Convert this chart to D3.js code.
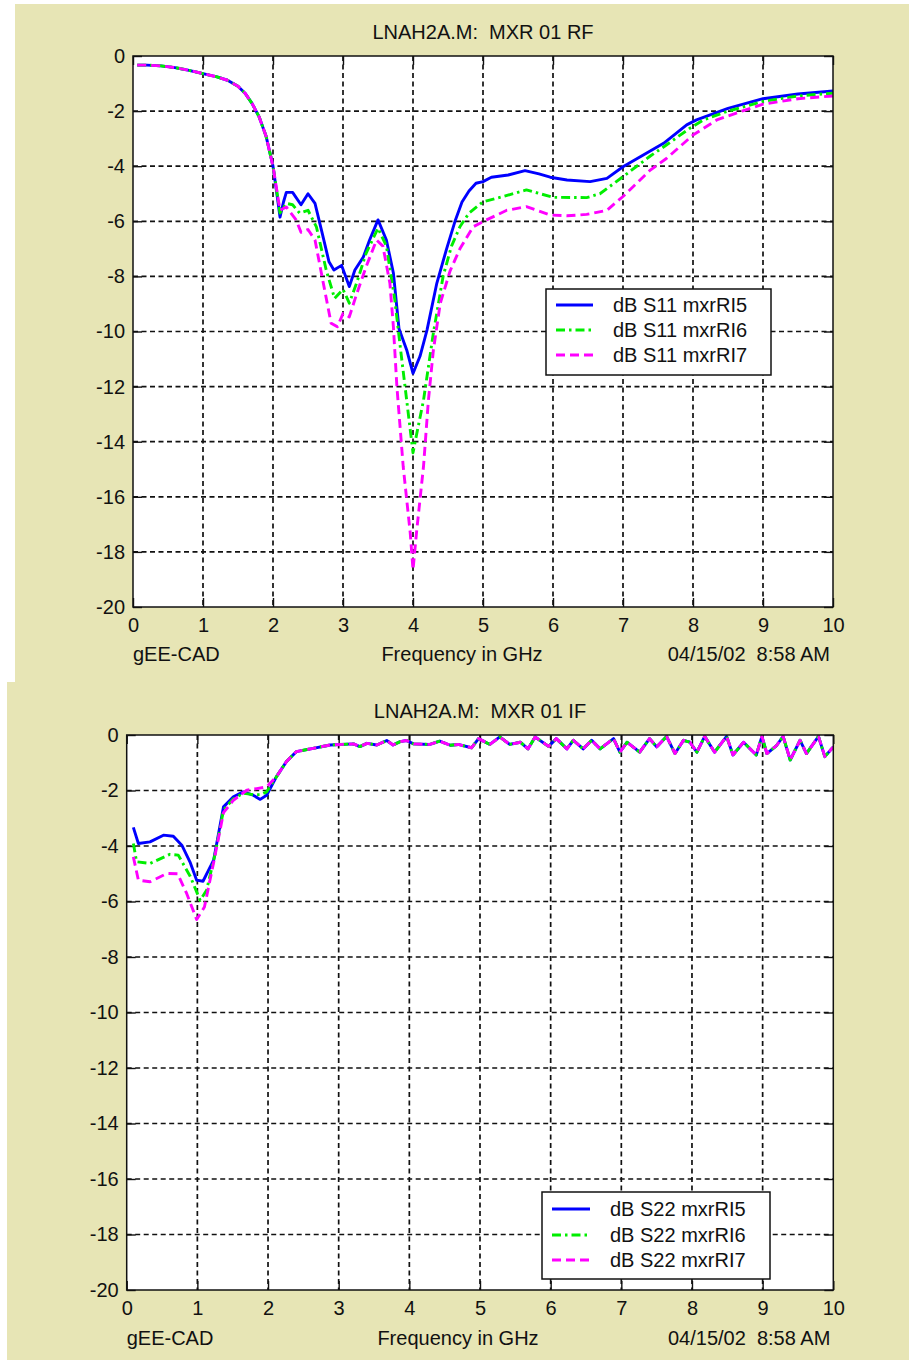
<!DOCTYPE html>
<html>
<head>
<meta charset="utf-8">
<script src="https://cdn.jsdelivr.net/npm/d3@7"></script>
<style>
  html, body { margin: 0; padding: 0; background: #ffffff; }
  svg { display: block; }
  text { font-family: "Liberation Sans", Arial, sans-serif; fill: #111; }
</style>
</head>
<body>
<svg id="chart" width="909" height="1360"></svg>
<script>
// ---------- shared axis definitions ----------
const xTicks = [0, 1, 2, 3, 4, 5, 6, 7, 8, 9, 10];
const yTicks = [0, -2, -4, -6, -8, -10, -12, -14, -16, -18, -20];

// ---------- RF panel: dB S11 ----------
// common roll-off, identical for all three runs below 2 GHz
const rfHeadF  = [0.06, 0.2, 0.4, 0.6, 0.8, 1.0, 1.2, 1.35, 1.5, 1.6, 1.7, 1.8, 1.9];
const rfHeadDb = [-0.33, -0.33, -0.36, -0.42, -0.52, -0.64, -0.76, -0.88, -1.1, -1.35, -1.72, -2.2, -2.9];

const s11RI5F  = [2.0, 2.05, 2.1, 2.15, 2.19, 2.28, 2.4, 2.5, 2.6, 2.7, 2.8, 2.87, 2.98, 3.09, 3.17, 3.29, 3.38, 3.5, 3.62, 3.72, 3.8, 3.91, 4.0, 4.1, 4.2, 4.34, 4.48, 4.6, 4.7, 4.8, 4.9, 5.0, 5.12, 5.36, 5.6, 5.8, 5.96, 6.2, 6.53, 6.77, 7.0, 7.29, 7.58, 7.91, 8.05, 8.5, 9.0, 9.5, 10.0];
const s11RI5Db = [-4.0, -4.9, -5.85, -5.3, -4.95, -4.95, -5.4, -5.0, -5.35, -6.4, -7.47, -7.77, -7.6, -8.37, -7.77, -7.3, -6.68, -5.95, -6.68, -7.88, -9.9, -10.67, -11.52, -10.9, -9.95, -8.25, -7.0, -6.0, -5.3, -4.9, -4.62, -4.56, -4.4, -4.32, -4.16, -4.28, -4.4, -4.5, -4.56, -4.44, -4.02, -3.59, -3.17, -2.5, -2.32, -1.9, -1.55, -1.38, -1.27];

const s11RI6F  = [2.0, 2.1, 2.19, 2.28, 2.38, 2.5, 2.62, 2.76, 2.88, 3.0, 3.09, 3.2, 3.33, 3.5, 3.62, 3.74, 3.82, 3.91, 4.0, 4.07, 4.15, 4.29, 4.43, 4.55, 4.67, 4.8, 5.0, 5.29, 5.62, 6.0, 6.48, 6.67, 7.0, 7.39, 7.62, 7.95, 8.15, 8.5, 9.0, 9.5, 10.0];
const s11RI6Db = [-4.0, -5.7, -5.35, -5.4, -5.7, -5.6, -6.2, -7.77, -8.8, -8.47, -8.97, -8.2, -7.16, -6.25, -6.9, -8.85, -10.6, -12.5, -14.4, -13.5, -12.5, -10.07, -8.0, -6.9, -6.2, -5.7, -5.29, -5.1, -4.86, -5.13, -5.14, -5.0, -4.38, -3.63, -3.23, -2.63, -2.32, -2.0, -1.65, -1.45, -1.35];

const s11RI7F  = [2.0, 2.1, 2.19, 2.33, 2.4, 2.5, 2.6, 2.7, 2.83, 2.92, 3.0, 3.09, 3.2, 3.33, 3.48, 3.57, 3.67, 3.72, 3.77, 3.86, 3.96, 4.0, 4.05, 4.15, 4.22, 4.29, 4.39, 4.53, 4.67, 4.86, 5.05, 5.34, 5.62, 5.96, 6.2, 6.48, 6.77, 7.0, 7.39, 7.62, 8.0, 8.34, 8.7, 9.0, 9.5, 10.0];
const s11RI7Db = [-4.0, -5.6, -5.48, -5.95, -6.4, -6.3, -6.68, -8.0, -9.7, -9.83, -9.35, -9.47, -8.6, -7.65, -6.68, -6.9, -8.25, -9.83, -12.0, -14.9, -17.3, -18.65, -17.3, -14.9, -12.5, -10.7, -8.97, -7.8, -7.0, -6.2, -5.95, -5.6, -5.47, -5.77, -5.8, -5.75, -5.6, -5.1, -4.14, -3.72, -2.87, -2.32, -2.0, -1.75, -1.55, -1.45];

// ---------- IF panel: dB S22 ----------
const s22RI5F  = [0.094, 0.165, 0.33, 0.52, 0.66, 0.78, 0.9, 0.99, 1.08, 1.23, 1.37, 1.51, 1.65, 1.79, 1.89, 1.98];
const s22RI5Db = [-3.33, -3.91, -3.85, -3.61, -3.65, -3.97, -4.6, -5.23, -5.27, -4.51, -2.59, -2.23, -2.05, -2.17, -2.32, -2.17];

const s22RI6F  = [0.094, 0.14, 0.33, 0.61, 0.73, 0.9, 1.04, 1.13, 1.25, 1.37, 1.51, 1.65, 1.79, 1.9, 1.98];
const s22RI6Db = [-3.91, -4.57, -4.63, -4.3, -4.33, -5.1, -5.96, -5.6, -4.3, -2.7, -2.3, -2.1, -2.15, -2.15, -2.05];

const s22RI7F  = [0.094, 0.165, 0.33, 0.57, 0.72, 0.85, 0.99, 1.1, 1.23, 1.37, 1.51, 1.7, 1.84, 1.98];
const s22RI7Db = [-4.39, -5.23, -5.29, -4.99, -5.0, -5.72, -6.65, -6.2, -4.6, -2.8, -2.35, -1.99, -1.93, -1.87];

// common upper band: the three runs overlap above 2 GHz
const ifTailF  = [2.12, 2.26, 2.4, 2.64, 2.88, 3.21, 3.30, 3.40, 3.54, 3.68, 3.77, 3.87, 3.96, 4.06, 4.29, 4.43, 4.58, 4.69, 4.88, 4.98, 5.14, 5.28, 5.42, 5.57, 5.68, 5.78, 5.97, 6.08, 6.23, 6.32, 6.46, 6.58, 6.70, 6.89, 6.98, 7.08, 7.26, 7.40, 7.50, 7.64, 7.76, 7.88, 7.97, 8.07, 8.18, 8.32, 8.49, 8.58, 8.73, 8.91, 8.99, 9.06, 9.20, 9.29, 9.39, 9.53, 9.62, 9.79, 9.88, 10.0];
const ifTailDb = [-1.5, -0.96, -0.6, -0.48, -0.36, -0.32, -0.42, -0.30, -0.36, -0.2, -0.36, -0.24, -0.2, -0.32, -0.34, -0.22, -0.37, -0.34, -0.46, -0.13, -0.34, -0.07, -0.34, -0.26, -0.5, -0.07, -0.41, -0.13, -0.5, -0.19, -0.5, -0.19, -0.5, -0.13, -0.62, -0.26, -0.62, -0.13, -0.43, -0.05, -0.67, -0.19, -0.26, -0.62, -0.05, -0.62, -0.05, -0.72, -0.26, -0.72, -0.05, -0.67, -0.37, -0.05, -0.9, -0.19, -0.67, -0.05, -0.78, -0.43];

// ---------- helpers ----------
const zip = (f, v) => f.map((x, i) => ({ f: x, db: v[i] }));
// plain ASCII hyphen for negative tick values
const plainNum = d => String(d);

const styles = {
  RI5: { color: "#0000ff", dash: null },
  RI6: { color: "#00ee00", dash: "9,4,2.5,4" },
  RI7: { color: "#ff00ff", dash: "9,5" }
};

const panels = [
  {
    id: "rf",
    bg: { x: 15, y: 4, w: 894, h: 678 },
    plot: { left: 133, right: 833, top: 56, bottom: 607 },
    title: "LNAH2A.M:  MXR 01 RF",
    titleY: 32,
    footY: 654, freqX: 462,
    legend: { x: 546, y: 289, w: 225, h: 86, sampleX0: 556, sampleX1: 593, textX: 613, rows: [305, 330, 355] },
    series: [
      { key: "RI5", label: "dB S11 mxrRI5", data: zip(rfHeadF, rfHeadDb).concat(zip(s11RI5F, s11RI5Db)) },
      { key: "RI6", label: "dB S11 mxrRI6", data: zip(rfHeadF, rfHeadDb).concat(zip(s11RI6F, s11RI6Db)) },
      { key: "RI7", label: "dB S11 mxrRI7", data: zip(rfHeadF, rfHeadDb).concat(zip(s11RI7F, s11RI7Db)) }
    ],
    drawOrder: ["RI5", "RI6", "RI7"]
  },
  {
    id: "if",
    bg: { x: 7, y: 682, w: 902, h: 678 },
    plot: { left: 126.7, right: 833.3, top: 735, bottom: 1290 },
    title: "LNAH2A.M:  MXR 01 IF",
    titleY: 711,
    footY: 1338, freqX: 458,
    legend: { x: 542, y: 1192, w: 228, h: 87, sampleX0: 552, sampleX1: 590, textX: 610, rows: [1209, 1235, 1260] },
    series: [
      { key: "RI5", label: "dB S22 mxrRI5", data: zip(s22RI5F, s22RI5Db).concat(zip(ifTailF, ifTailDb)) },
      { key: "RI6", label: "dB S22 mxrRI6", data: zip(s22RI6F, s22RI6Db).concat(zip(ifTailF, ifTailDb)) },
      { key: "RI7", label: "dB S22 mxrRI7", data: zip(s22RI7F, s22RI7Db).concat(zip(ifTailF, ifTailDb)) }
    ],
    drawOrder: ["RI5", "RI6", "RI7"]
  }
];

const svg = d3.select("#chart");
const FONT = 20;

panels.forEach(p => {
  const g = svg.append("g").attr("class", "panel-" + p.id);

  g.append("rect")
    .attr("x", p.bg.x).attr("y", p.bg.y)
    .attr("width", p.bg.w).attr("height", p.bg.h)
    .attr("fill", "#e7e5b5");

  const x = d3.scaleLinear().domain([0, 10]).range([p.plot.left, p.plot.right]);
  const y = d3.scaleLinear().domain([-20, 0]).range([p.plot.bottom, p.plot.top]);
  const W = p.plot.right - p.plot.left;
  const H = p.plot.bottom - p.plot.top;

  // plot area
  g.append("rect")
    .attr("x", p.plot.left).attr("y", p.plot.top)
    .attr("width", W).attr("height", H)
    .attr("fill", "#ffffff");

  // dashed grid
  const grid = g.append("g").attr("stroke", "#111").attr("stroke-width", 1.7)
    .attr("stroke-dasharray", "5,3.5");
  grid.selectAll("line.vx").data(xTicks.slice(1, -1)).join("line")
    .attr("x1", d => x(d)).attr("x2", d => x(d))
    .attr("y1", p.plot.top).attr("y2", p.plot.bottom);
  grid.selectAll("line.hy").data(yTicks.slice(1, -1)).join("line")
    .attr("x1", p.plot.left).attr("x2", p.plot.right)
    .attr("y1", d => y(d)).attr("y2", d => y(d));

  // inward tick marks on all four sides
  const tickLen = 9;
  const tickStyle = sel => {
    sel.select(".domain").remove();
    sel.selectAll(".tick line").attr("stroke", "#111").attr("stroke-width", 1.4);
    sel.selectAll(".tick text").remove();
  };
  g.append("g").attr("transform", `translate(0,${p.plot.bottom})`)
    .call(d3.axisBottom(x).tickValues(xTicks).tickSize(-tickLen)).call(tickStyle);
  g.append("g").attr("transform", `translate(0,${p.plot.top})`)
    .call(d3.axisTop(x).tickValues(xTicks).tickSize(-tickLen)).call(tickStyle);
  g.append("g").attr("transform", `translate(${p.plot.left},0)`)
    .call(d3.axisLeft(y).tickValues(yTicks).tickSize(-tickLen)).call(tickStyle);
  g.append("g").attr("transform", `translate(${p.plot.right},0)`)
    .call(d3.axisRight(y).tickValues(yTicks).tickSize(-tickLen)).call(tickStyle);

  // tick labels
  const labelStyle = sel => {
    sel.select(".domain").remove();
    sel.selectAll(".tick line").remove();
    sel.selectAll(".tick text").attr("font-size", FONT).attr("fill", "#111")
      .attr("font-family", '"Liberation Sans", Arial, sans-serif');
  };
  g.append("g").attr("transform", `translate(0,${p.plot.bottom})`)
    .call(d3.axisBottom(x).tickValues(xTicks).tickFormat(plainNum).tickSize(0).tickPadding(11))
    .call(labelStyle);
  g.append("g").attr("transform", `translate(${p.plot.left},0)`)
    .call(d3.axisLeft(y).tickValues(yTicks).tickFormat(plainNum).tickSize(0).tickPadding(8))
    .call(labelStyle);

  // data lines
  const clipId = "clip-" + p.id;
  g.append("clipPath").attr("id", clipId).append("rect")
    .attr("x", p.plot.left).attr("y", p.plot.top).attr("width", W).attr("height", H);

  const line = d3.line().x(d => x(d.f)).y(d => y(d.db));
  const lines = g.append("g").attr("clip-path", `url(#${clipId})`);
  p.drawOrder.forEach(k => {
    const s = p.series.find(v => v.key === k);
    lines.append("path")
      .datum(s.data)
      .attr("fill", "none")
      .attr("stroke", styles[k].color)
      .attr("stroke-width", 2.9)
      .attr("stroke-linejoin", "round")
      .attr("stroke-dasharray", styles[k].dash)
      .attr("d", line);
  });

  // frame
  g.append("rect")
    .attr("x", p.plot.left).attr("y", p.plot.top)
    .attr("width", W).attr("height", H)
    .attr("fill", "none").attr("stroke", "#111").attr("stroke-width", 1.5);

  // legend
  const L = p.legend;
  const lg = g.append("g");
  lg.append("rect").attr("x", L.x).attr("y", L.y).attr("width", L.w).attr("height", L.h)
    .attr("fill", "#ffffff").attr("stroke", "#111").attr("stroke-width", 1.5);
  p.series.forEach((s, i) => {
    lg.append("line")
      .attr("x1", L.sampleX0).attr("x2", L.sampleX1)
      .attr("y1", L.rows[i]).attr("y2", L.rows[i])
      .attr("stroke", styles[s.key].color).attr("stroke-width", 2.9)
      .attr("stroke-dasharray", styles[s.key].dash);
    lg.append("text")
      .attr("x", L.textX).attr("y", L.rows[i]).attr("dy", "0.36em")
      .attr("font-size", FONT).text(s.label);
  });

  // title and footer texts
  g.append("text").attr("x", (p.plot.left + p.plot.right) / 2).attr("y", p.titleY)
    .attr("dy", "0.36em").attr("text-anchor", "middle").attr("font-size", FONT)
    .style("white-space", "pre").text(p.title);
  g.append("text").attr("x", p.plot.left).attr("y", p.footY).attr("dy", "0.36em")
    .attr("font-size", FONT).text("gEE-CAD");
  g.append("text").attr("x", p.freqX).attr("y", p.footY).attr("dy", "0.36em")
    .attr("text-anchor", "middle").attr("font-size", FONT).text("Frequency in GHz");
  g.append("text").attr("x", p.plot.right - 3).attr("y", p.footY).attr("dy", "0.36em")
    .attr("text-anchor", "end").attr("font-size", FONT)
    .style("white-space", "pre").text("04/15/02  8:58 AM");
});
</script>
</body>
</html>
